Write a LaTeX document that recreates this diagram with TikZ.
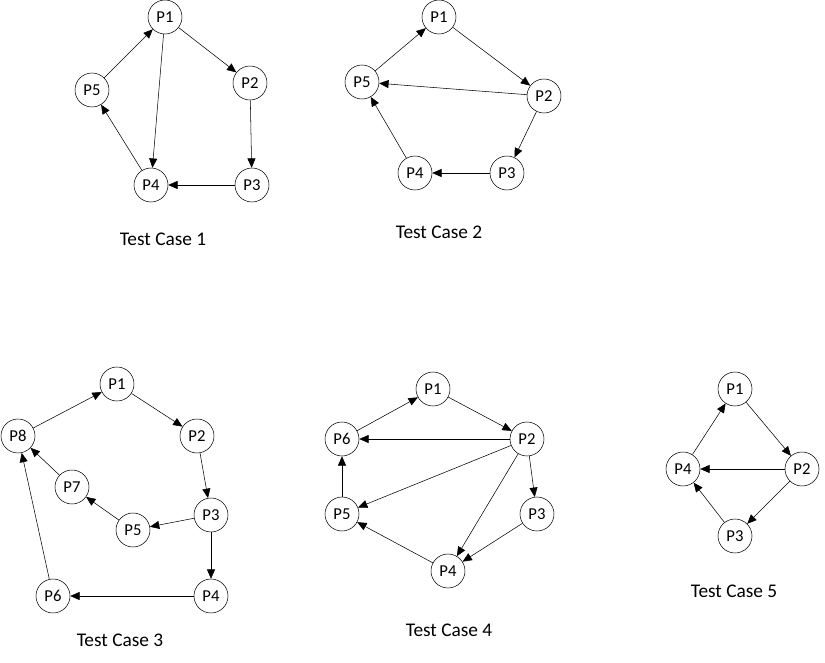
\documentclass[tikz,border=0pt]{standalone}
\usepackage{fontspec}
\setmainfont{Carlito}
\usepackage{tikz}
\usetikzlibrary{arrows.meta}

\begin{document}
\begin{tikzpicture}[x=0.75pt, y=-0.75pt, font=\fontsize{12.5}{14}\selectfont,
    proc/.style={draw, circle, thin, minimum size=25.5pt, inner sep=0pt},
    edge/.style={thin, -{Triangle[length=7pt, width=6pt]}},
    caption/.style={font=\fontsize{14.5}{17}\selectfont}]
    \useasboundingbox (0,0) rectangle (825,663);

    % Test case 1
    \node[proc] (a1) at (165,17) {P1};
    \node[proc] (a2) at (250,83) {P2};
    \node[proc] (a3) at (252,185) {P3};
    \node[proc] (a4) at (151,185) {P4};
    \node[proc] (a5) at (92,90) {P5};
    \draw[edge] (a5) -- (a1);
    \draw[edge] (a1) -- (a2);
    \draw[edge] (a1) -- (a4);
    \draw[edge] (a2) -- (a3);
    \draw[edge] (a3) -- (a4);
    \draw[edge] (a4) -- (a5);
    \node[caption] (cap1) at (163,239) {Test Case 1};

    % Test case 2
    \node[proc] (b1) at (439,17) {P1};
    \node[proc] (b2) at (544,96) {P2};
    \node[proc] (b3) at (507,173) {P3};
    \node[proc] (b4) at (415,173) {P4};
    \node[proc] (b5) at (362,82) {P5};
    \draw[edge] (b5) -- (b1);
    \draw[edge] (b1) -- (b2);
    \draw[edge] (b2) -- (b5);
    \draw[edge] (b2) -- (b3);
    \draw[edge] (b3) -- (b4);
    \draw[edge] (b4) -- (b5);
    \node[caption] (cap2) at (439,232) {Test Case 2};

    % Test case 3
    \node[proc] (c1) at (117,384) {P1};
    \node[proc] (c2) at (197,436) {P2};
    \node[proc] (c3) at (211,515) {P3};
    \node[proc] (c4) at (211,596) {P4};
    \node[proc] (c5) at (133,530) {P5};
    \node[proc] (c6) at (53,596) {P6};
    \node[proc] (c7) at (72,487) {P7};
    \node[proc] (c8) at (18,436) {P8};
    \draw[edge] (c8) -- (c1);
    \draw[edge] (c1) -- (c2);
    \draw[edge] (c2) -- (c3);
    \draw[edge] (c3) -- (c5);
    \draw[edge] (c3) -- (c4);
    \draw[edge] (c5) -- (c7);
    \draw[edge] (c7) -- (c8);
    \draw[edge] (c4) -- (c6);
    \draw[edge] (c6) -- (c8);
    \node[caption] (cap3) at (120,640) {Test Case 3};

    % Test case 4
    \node[proc] (d1) at (433,389) {P1};
    \node[proc] (d2) at (527,439) {P2};
    \node[proc] (d3) at (537,514) {P3};
    \node[proc] (d4) at (448,571) {P4};
    \node[proc] (d5) at (342,514) {P5};
    \node[proc] (d6) at (342,439) {P6};
    \draw[edge] (d6) -- (d1);
    \draw[edge] (d1) -- (d2);
    \draw[edge] (d2) -- (d6);
    \draw[edge] (d2) -- (d5);
    \draw[edge] (d2) -- (d4);
    \draw[edge] (d2) -- (d3);
    \draw[edge] (d3) -- (d4);
    \draw[edge] (d4) -- (d5);
    \draw[edge] (d5) -- (d6);
    \node[caption] (cap4) at (449,630) {Test Case 4};

    % Test case 5
    \node[proc] (e1) at (735,389) {P1};
    \node[proc] (e2) at (802,469) {P2};
    \node[proc] (e3) at (735,536) {P3};
    \node[proc] (e4) at (683,469) {P4};
    \draw[edge] (e4) -- (e1);
    \draw[edge] (e1) -- (e2);
    \draw[edge] (e2) -- (e4);
    \draw[edge] (e2) -- (e3);
    \draw[edge] (e3) -- (e4);
    \node[caption] (cap5) at (734,591) {Test Case 5};
\end{tikzpicture}
\end{document}
